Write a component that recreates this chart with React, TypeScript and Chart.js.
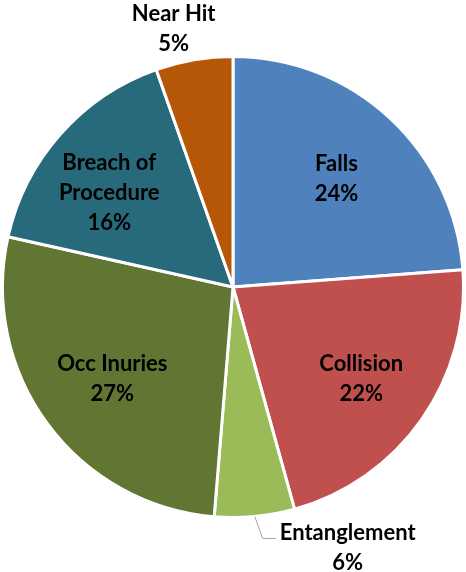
import React, { useEffect, useRef } from "react";
import { Chart, registerables } from "chart.js";

Chart.register(...registerables);

const categories = ["Falls", "Collision", "Entanglement", "Occ Inuries", "Breach of Procedure", "Near Hit"];
const labelLines = [["Falls"], ["Collision"], ["Entanglement"], ["Occ Inuries"], ["Breach of", "Procedure"], ["Near Hit"]];
const values = [23.8, 21.9, 5.6, 27.2, 16.1, 5.4];
const colors = ["#4F81BD", "#C0504D", "#9BBB59", "#617632", "#276A7B", "#B65708"];

// label placement (layout only): radial factor, pixel offsets, leader line
const placement = [
  { f: 0.66, dx: 0, dy: 3 },
  { f: 0.68, dx: 0, dy: 2 },
  { f: 1.0, dx: 0, dy: 0, leader: { ex: 8, ey: 22, h: 13, lx: 85, ly: 9 } },
  { f: 0.65, dx: 0, dy: 3 },
  { f: 0.66, dx: -10, dy: 7 },
  { f: 1.14, dx: -15, dy: 1 },
];

const FONT = "bold 22px Lato";
const LINE_H = 30;

const labelPlugin = {
  id: "sliceLabels",
  afterDatasetsDraw(chart: any) {
    const ctx = chart.ctx;
    const meta = chart.getDatasetMeta(0);
    const data = chart.data.datasets[0].data as number[];
    const total = data.reduce((a, b) => a + b, 0);
    ctx.save();
    ctx.font = FONT;
    ctx.fillStyle = "#000";
    ctx.textAlign = "center";
    ctx.textBaseline = "middle";
    meta.data.forEach((arc: any, i: number) => {
      const p = arc.getProps(["x", "y", "startAngle", "endAngle", "outerRadius"], true);
      const mid = (p.startAngle + p.endAngle) / 2;
      const pl: any = placement[i];
      let cx = p.x + Math.cos(mid) * p.outerRadius * pl.f + pl.dx;
      let cy = p.y + Math.sin(mid) * p.outerRadius * pl.f + pl.dy;
      if (pl.leader) {
        const L = pl.leader;
        const sx = cx, sy = cy;
        const ex = sx + L.ex, ey = sy + L.ey;
        ctx.strokeStyle = "#A6A6A6";
        ctx.lineWidth = 1;
        ctx.beginPath();
        ctx.moveTo(sx, sy);
        ctx.lineTo(ex, ey);
        ctx.lineTo(ex + L.h, ey);
        ctx.stroke();
        cx = ex + L.lx;
        cy = ey + L.ly;
      }
      const lines = [...labelLines[i], Math.round((data[i] / total) * 100) + "%"];
      const top = cy - ((lines.length - 1) * LINE_H) / 2;
      lines.forEach((t, k) => ctx.fillText(t, cx, top + k * LINE_H));
    });
    ctx.restore();
  },
};

export default function App() {
  const ref = useRef<HTMLCanvasElement>(null);
  useEffect(() => {
    document.body.style.margin = "0";
    if (!ref.current) return;
    const chart = new Chart(ref.current, {
      type: "pie",
      data: {
        labels: categories,
        datasets: [
          {
            data: values,
            backgroundColor: colors,
            borderColor: "#FFFFFF",
            borderWidth: 3,
          },
        ],
      },
      options: {
        animation: false,
        responsive: false,
        maintainAspectRatio: false,
        layout: { padding: { left: 1, right: 1, top: 2, bottom: 0 } },
        plugins: { legend: { display: false }, tooltip: { enabled: false } },
      },
      plugins: [labelPlugin],
    });
    return () => chart.destroy();
  }, []);
  return (
    <div style={{ width: 466, height: 572, background: "#fff" }}>
      <canvas ref={ref} width={466} height={572} style={{ display: "block" }} />
    </div>
  );
}
